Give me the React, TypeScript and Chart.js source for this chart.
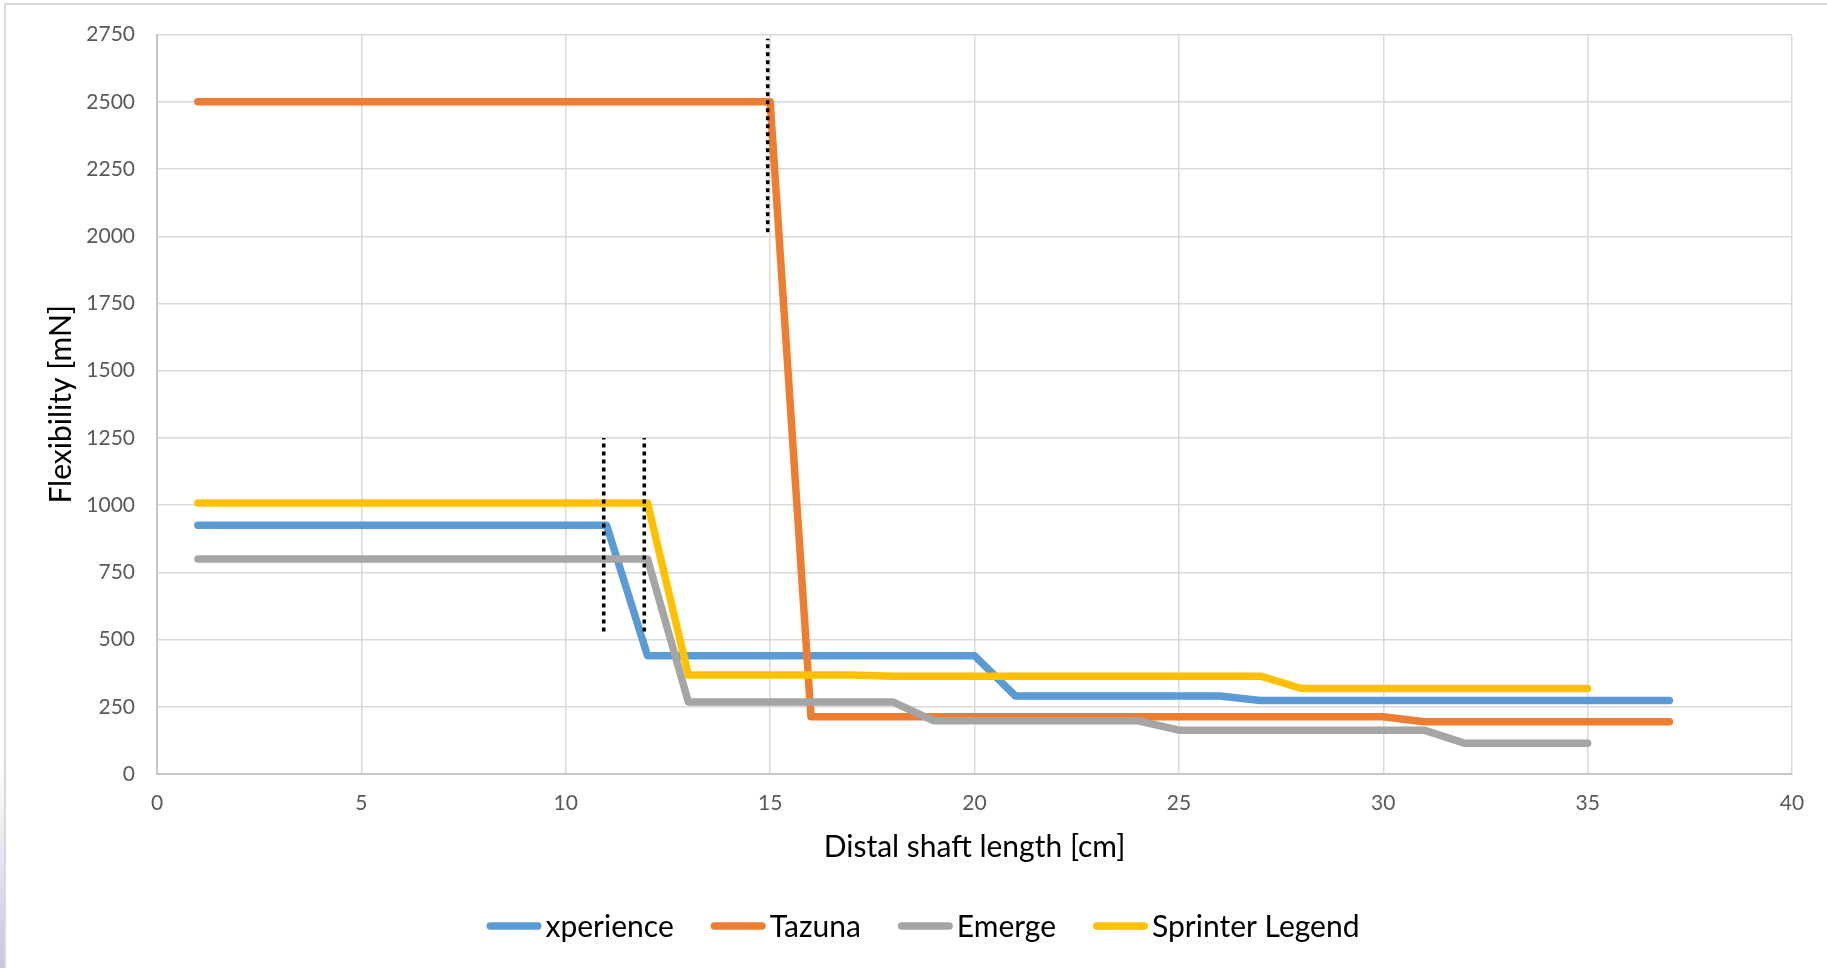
import React, { useEffect, useRef } from "react";
import { Chart, registerables } from "chart.js";

Chart.register(...registerables);

// ---------- data ----------
const distances = [
  1, 2, 3, 4, 5, 6, 7, 8, 9, 10, 11, 12, 13, 14, 15, 16, 17, 18, 19, 20, 21, 22, 23, 24, 25, 26,
  27, 28, 29, 30, 31, 32, 33, 34, 35, 36, 37,
];

const xperience = [
  925, 925, 925, 925, 925, 925, 925, 925, 925, 925, 925, 440, 440, 440, 440, 440, 440, 440, 440,
  440, 290, 290, 290, 290, 290, 290, 273, 273, 273, 273, 273, 273, 273, 273, 273, 273, 273,
];

const tazuna = [
  2500, 2500, 2500, 2500, 2500, 2500, 2500, 2500, 2500, 2500, 2500, 2500, 2500, 2500, 2500, 213,
  213, 213, 213, 213, 213, 213, 213, 213, 213, 213, 213, 213, 213, 213, 194, 194, 194, 194, 194,
  194, 194,
];

const emerge = [
  800, 800, 800, 800, 800, 800, 800, 800, 800, 800, 800, 800, 268, 268, 268, 268, 268, 268, 198,
  198, 198, 198, 198, 198, 163, 163, 163, 163, 163, 163, 163, 114, 114, 114, 114,
];

const sprinterLegend = [
  1008, 1008, 1008, 1008, 1008, 1008, 1008, 1008, 1008, 1008, 1008, 1008, 368, 368, 368, 368, 368,
  364, 364, 364, 364, 364, 364, 364, 364, 364, 364, 318, 318, 318, 318, 318, 318, 318, 318,
];

const seriesNames = ["xperience", "Tazuna", "Emerge", "Sprinter Legend"];
const seriesValues = [xperience, tazuna, emerge, sprinterLegend];
const seriesColors = ["#5B9BD5", "#ED7D31", "#A5A5A5", "#FFC000"];
const seriesOrder = [3, 2, 1, 0];

// dotted reference markers
const markerX = [10.93, 11.92, 14.94];
const markerLow = [530, 530, 2015];
const markerHigh = [1250, 1250, 2735];

const xTitle = "Distal shaft length [cm]";
const yTitle = "Flexibility [mN]";
const xMin = 0;
const xMax = 40;
const xStep = 5;
const yMin = 0;
const yMax = 2750;
const yStep = 250;

// ---------- styles ----------
const FONT = "Lato, 'Open Sans', sans-serif";
const W = 1827;
const H = 968;

const legendPlugin = {
  id: "excelLegend",
  afterDraw(chart: any) {
    const ctx = chart.ctx as CanvasRenderingContext2D;
    const items = chart.data.datasets.filter((d: any) => !d.isMarker);
    const fontSize = 30;
    const markerW = 55;
    const lw = 7.5;
    const gapText = 4;
    const gapItem = 37;
    const cy = 926;
    ctx.save();
    ctx.font = `${fontSize}px ${FONT}`;
    const widths = items.map((d: any) => ctx.measureText(d.label).width);
    let total = 0;
    widths.forEach((w: number, i: number) => {
      total += markerW + gapText + w + (i > 0 ? gapItem : 0);
    });
    let x = 923 - total / 2;
    items.forEach((d: any, i: number) => {
      ctx.beginPath();
      ctx.lineWidth = lw;
      ctx.lineCap = "round";
      ctx.strokeStyle = d.borderColor;
      ctx.moveTo(x + lw / 2, cy);
      ctx.lineTo(x + markerW - lw / 2, cy);
      ctx.stroke();
      ctx.fillStyle = "#000000";
      ctx.textBaseline = "middle";
      ctx.textAlign = "left";
      ctx.fillText(d.label, x + markerW + gapText, cy + 1);
      x += markerW + gapText + widths[i] + gapItem;
    });
    ctx.restore();
  },
};

export default function App() {
  const canvasRef = useRef<HTMLCanvasElement | null>(null);

  useEffect(() => {
    document.body.style.margin = "0";
    const canvas = canvasRef.current;
    if (!canvas) return;

    const lineSets = seriesNames.map((name, i) => ({
      label: name,
      data: seriesValues[i].map((v, j) => ({ x: distances[j], y: v })),
      borderColor: seriesColors[i],
      backgroundColor: seriesColors[i],
      borderWidth: 7.5,
      borderCapStyle: "round" as const,
      borderJoinStyle: "round" as const,
      pointRadius: 0,
      pointHoverRadius: 0,
      tension: 0,
      fill: false,
      order: seriesOrder[i],
    }));

    const markerSets = markerX.map((mx, i) => ({
      label: "marker" + i,
      isMarker: true,
      data: [
        { x: mx, y: markerLow[i] },
        { x: mx, y: markerHigh[i] },
      ],
      borderColor: "#000000",
      backgroundColor: "#000000",
      borderWidth: 3.5,
      borderDash: [4, 4],
      borderCapStyle: "butt" as const,
      pointRadius: 0,
      pointHoverRadius: 0,
      tension: 0,
      fill: false,
      order: -1,
    }));

    const chart = new Chart(canvas, {
      type: "line",
      data: { datasets: [...lineSets, ...markerSets] as any },
      plugins: [legendPlugin],
      options: {
        animation: false,
        responsive: false,
        devicePixelRatio: 1,
        layout: { padding: { left: 5, right: 35, top: 34, bottom: 80 } },
        plugins: {
          legend: { display: false },
          tooltip: { enabled: false },
          title: { display: false },
        },
        scales: {
          x: {
            type: "linear",
            min: xMin,
            max: xMax,
            afterFit: (scale: any) => {
              scale.height = 114;
            },
            ticks: {
              stepSize: xStep,
              color: "#595959",
              font: { family: FONT, size: 21 },
              padding: 17,
              callback: (v: any) => String(v),
            },
            grid: {
              color: "#d9d9d9",
              lineWidth: 1.5,
              drawTicks: false,
            },
            border: { color: "#c6c6c6", width: 2 },
            title: {
              display: true,
              text: xTitle,
              color: "#000000",
              font: { family: FONT, size: 30 },
              padding: { top: 0, bottom: 23 },
            },
          },
          y: {
            type: "linear",
            min: yMin,
            max: yMax,
            afterFit: (scale: any) => {
              scale.width = 152;
            },
            ticks: {
              stepSize: yStep,
              color: "#595959",
              font: { family: FONT, size: 21 },
              padding: 22,
              callback: (v: any) => String(v),
            },
            grid: {
              color: "#d9d9d9",
              lineWidth: 1.5,
              drawTicks: false,
            },
            border: { color: "#c6c6c6", width: 2 },
            title: {
              display: true,
              text: yTitle,
              color: "#000000",
              font: { family: FONT, size: 30 },
              padding: { top: 38, bottom: 0 },
            },
          },
        },
      },
    });

    return () => {
      chart.destroy();
    };
  }, []);

  return (
    <div
      style={{
        position: "absolute",
        left: 0,
        top: 0,
        width: W,
        height: H,
        background: "#ffffff",
        overflow: "hidden",
      }}
    >
      <div
        style={{
          position: "absolute",
          left: 4,
          top: 3,
          width: W,
          height: H,
          borderLeft: "2px solid #d9d9d9",
          borderTop: "2px solid #d9d9d9",
          boxSizing: "border-box",
        }}
      />
      <div
        style={{
          position: "absolute",
          left: 0,
          top: 760,
          width: 4,
          height: H - 760,
          background: "linear-gradient(to bottom, #ffffff, #c3c7dc)",
        }}
      />
      <canvas
        ref={canvasRef}
        width={W}
        height={H}
        style={{ position: "absolute", left: 0, top: 0, width: W, height: H }}
      />
    </div>
  );
}
